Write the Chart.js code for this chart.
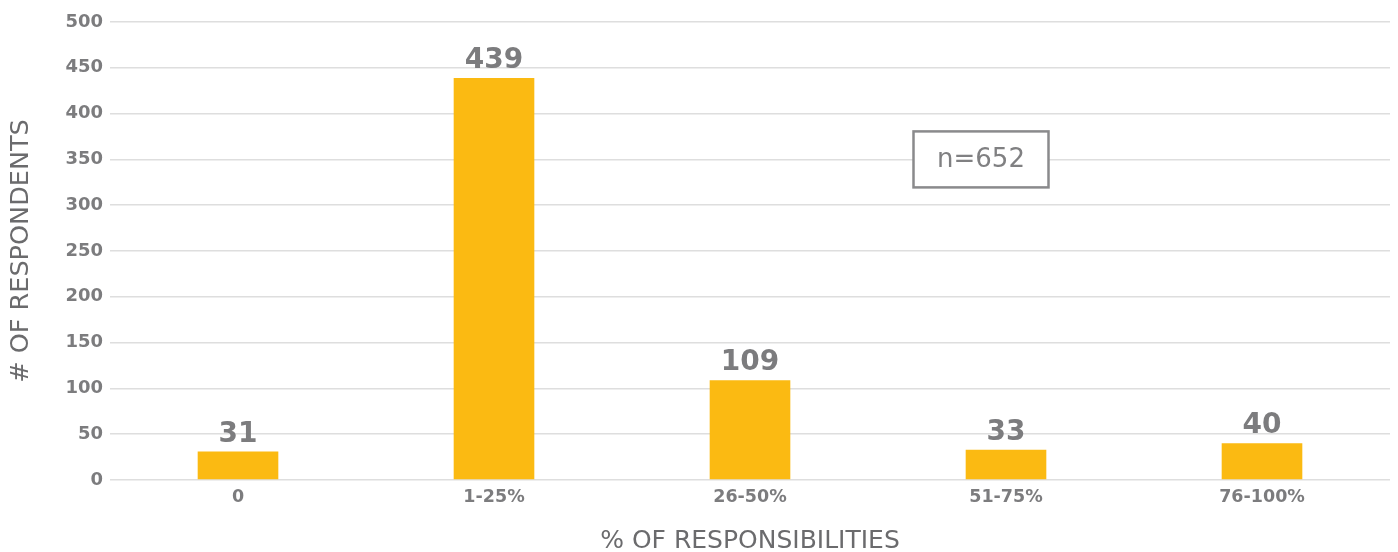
<!DOCTYPE html>
<html lang="en">
<head>
<meta charset="UTF-8">
<title># of respondents by % of responsibilities</title>
<script src="https://cdn.jsdelivr.net/npm/chart.js"></script>
<style>
  html, body { margin: 0; padding: 0; background: #fff; }
  #wrap { width: 1398px; height: 552px; }
</style>
</head>
<body>
<div id="wrap"><canvas id="chart" width="1398" height="552"></canvas></div>
<script>
// data
var categories = ['0', '1-25%', '26-50%', '51-75%', '76-100%'];
var respondents = [31, 439, 109, 33, 40];
var yTicks = [0, 50, 100, 150, 200, 250, 300, 350, 400, 450, 500];
var sampleNote = 'n=652';

var fontFamily = '"DejaVu Sans", "Open Sans", sans-serif';
var grey = '#7c7c7e';

// value labels above each bar
var barLabels = {
  id: 'barLabels',
  afterDatasetsDraw: function(chart) {
    var ctx = chart.ctx;
    var meta = chart.getDatasetMeta(0);
    ctx.save();
    ctx.fillStyle = grey;
    ctx.font = '700 28px ' + fontFamily;
    ctx.textAlign = 'center';
    ctx.textBaseline = 'alphabetic';
    meta.data.forEach(function(bar, i) {
      ctx.fillText(respondents[i], bar.x, bar.y - 10);
    });
    ctx.restore();
  }
};

// the "n=652" box
var noteBox = {
  id: 'noteBox',
  afterDraw: function(chart) {
    var ctx = chart.ctx;
    var xs = chart.scales.x, ys = chart.scales.y;
    var cx = (xs.getPixelForValue(2) + xs.getPixelForValue(3)) / 2 + 103;
    var cy = ys.getPixelForValue(350);
    var w = 135, h = 56;
    ctx.save();
    ctx.fillStyle = '#fff';
    ctx.fillRect(cx - w / 2, cy - h / 2, w, h);
    ctx.strokeStyle = '#8a8a8c';
    ctx.lineWidth = 2.5;
    ctx.strokeRect(cx - w / 2, cy - h / 2, w, h);
    ctx.fillStyle = '#808082';
    ctx.font = '400 26px ' + fontFamily;
    ctx.textAlign = 'center';
    ctx.textBaseline = 'middle';
    ctx.fillText(sampleNote, cx, cy + 1);
    ctx.restore();
  }
};

new Chart(document.getElementById('chart'), {
  type: 'bar',
  data: {
    labels: categories,
    datasets: [{
      data: respondents,
      backgroundColor: '#fbba12',
      borderWidth: 0,
      categoryPercentage: 1,
      barPercentage: 0.315
    }]
  },
  options: {
    responsive: false,
    animation: false,
    layout: { padding: { top: 22, right: 8, bottom: 0, left: 0 } },
    plugins: {
      legend: { display: false },
      tooltip: { enabled: false }
    },
    scales: {
      x: {
        grid: { display: false, drawTicks: false },
        border: { display: false },
        ticks: {
          color: grey,
          padding: 7,
          font: { family: fontFamily, size: 17.5, weight: '700' }
        },
        title: {
          display: true,
          text: '% OF RESPONSIBILITIES',
          color: '#6b6b6d',
          padding: { top: 19, bottom: -4 },
          font: { family: fontFamily, size: 25, weight: '400' }
        },
        afterFit: function(scale) { scale.height = 72; }
      },
      y: {
        min: 0,
        max: 500,
        afterBuildTicks: function(scale) {
          scale.ticks = yTicks.map(function(v) { return { value: v }; });
        },
        grid: { color: '#dedede', lineWidth: 1.5, drawTicks: false },
        border: { display: false },
        ticks: {
          color: grey,
          padding: 7,
          font: { family: fontFamily, size: 18, weight: '700' }
        },
        title: {
          display: true,
          text: '# OF RESPONDENTS',
          color: '#6b6b6d',
          padding: { top: 6, bottom: 0 },
          font: { family: fontFamily, size: 25.5, weight: '400' }
        },
        afterFit: function(scale) { scale.width = 110; }
      }
    }
  },
  plugins: [barLabels, noteBox]
});
</script>
</body>
</html>
